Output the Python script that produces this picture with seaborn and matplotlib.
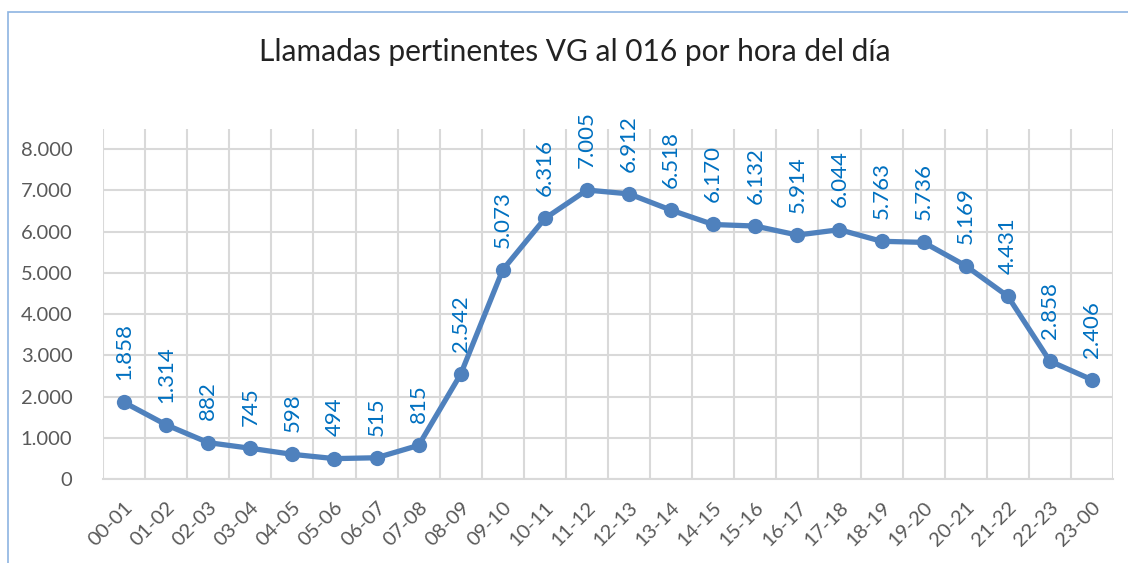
import matplotlib
matplotlib.use("Agg")
import matplotlib.pyplot as plt
import seaborn as sns
import pandas as pd
import numpy as np

# datos: llamadas pertinentes por franja horaria
franjas = ["00-01", "01-02", "02-03", "03-04", "04-05", "05-06", "06-07", "07-08",
           "08-09", "09-10", "10-11", "11-12", "12-13", "13-14", "14-15", "15-16",
           "16-17", "17-18", "18-19", "19-20", "20-21", "21-22", "22-23", "23-00"]
llamadas = [1858, 1314, 882, 745, 598, 494, 515, 815, 2542, 5073, 6316, 7005,
            6912, 6518, 6170, 6132, 5914, 6044, 5763, 5736, 5169, 4431, 2858, 2406]
yticks = [0, 1000, 2000, 3000, 4000, 5000, 6000, 7000, 8000]

df = pd.DataFrame({"franja": franjas, "llamadas": llamadas})

sns.set_style("white")
plt.rcParams["font.family"] = ["Lato", "DejaVu Sans"]

def miles(v):
    return f"{v:,}".replace(",", ".")

fig = plt.figure(figsize=(11.28, 5.63), dpi=100)
ax = fig.add_axes([103 / 1128, 1 - 479 / 563, 1010 / 1128, 350 / 563])

linea = "#4F81BD"
sns.lineplot(data=df, x="franja", y="llamadas", ax=ax, color=linea, linewidth=3.8,
             marker="o", markersize=11, markeredgewidth=0, sort=False)

# etiquetas de datos
for i, v in enumerate(llamadas):
    ax.annotate(miles(v), (i, v), xytext=(0, 16), textcoords="offset points",
                rotation=90, ha="center", va="bottom", color="#0070C0", fontsize=16)

ax.set_xlim(-0.5, len(franjas) - 0.5)
ax.set_ylim(0, 8485)
ax.set_yticks(yticks)
ax.set_yticklabels([miles(v) for v in yticks])
ax.set_xticks(range(len(franjas)))
ax.set_xticklabels(franjas, rotation=45, ha="right", rotation_mode="anchor")
ax.set_xticks(np.arange(-0.5, len(franjas), 1), minor=True)
ax.tick_params(axis="both", which="both", length=0, labelsize=14.5, colors="#595959")
ax.tick_params(axis="x", pad=14)
ax.tick_params(axis="y", pad=22)
ax.grid(False)
ax.xaxis.grid(True, which="minor", color="#D9D9D9", linewidth=1.5)
ax.yaxis.grid(True, which="major", color="#D9D9D9", linewidth=1.5)
ax.set_axisbelow(True)
for s in ["top", "right", "left"]:
    ax.spines[s].set_visible(False)
ax.spines["bottom"].set_color("#D9D9D9")
ax.spines["bottom"].set_linewidth(1.5)
ax.set_xlabel("")
ax.set_ylabel("")

fig.text(575 / 1128, 1 - 52 / 563, "Llamadas pertinentes VG al 016 por hora del día",
         ha="center", va="center", fontsize=21.5, color="#222222")

# marco del gráfico
marco = plt.Rectangle((8 / 1128, -0.05), 1.2, 1 - 12 / 563 + 0.05, transform=fig.transFigure,
                      fill=False, edgecolor="#8DB4E2", linewidth=1.2)
fig.patches.append(marco)

fig.savefig("out.png", dpi=100)
